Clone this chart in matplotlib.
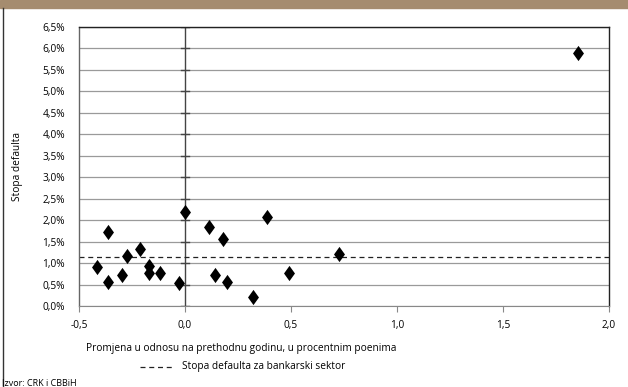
import numpy as np
import matplotlib.pyplot as plt
from matplotlib.path import Path
from matplotlib.lines import Line2D
from matplotlib.ticker import FuncFormatter

plt.rcParams['font.family'] = ['Open Sans', 'DejaVu Sans']

# promjena (p.p.) i stopa defaulta (%)
promjena = [-0.415, -0.363, -0.363, -0.297, -0.274, -0.21, -0.17, -0.17, -0.118, -0.028,
            0.0, 0.113, 0.14, 0.18, 0.2, 0.32, 0.387, 0.49, 0.726, 1.854]
stopa = [0.92, 1.72, 0.55, 0.72, 1.17, 1.32, 0.93, 0.76, 0.78, 0.53,
         2.18, 1.85, 0.73, 1.55, 0.57, 0.2, 2.07, 0.77, 1.2, 5.9]
stopa_sektor = 1.13
x_ticks = [-0.5, 0.0, 0.5, 1.0, 1.5, 2.0]
y_ticks = np.arange(0, 6.51, 0.5)

diamond = Path([(0, 1), (0.72, 0), (0, -1), (-0.72, 0), (0, 1)],
               [Path.MOVETO, Path.LINETO, Path.LINETO, Path.LINETO, Path.CLOSEPOLY])

fig = plt.figure(figsize=(6.28, 3.87), dpi=100)
ax = fig.add_axes([79 / 628, 1 - 306 / 387, 530 / 628, 279 / 387])

# header bar and left frame
fig.patches.append(plt.Rectangle((0, 1 - 8 / 387), 1, 8 / 387, transform=fig.transFigure,
                                 color='#A58C6F', zorder=0))
fig.lines.append(Line2D([3.5 / 628, 3.5 / 628], [0, 1 - 8 / 387], transform=fig.transFigure,
                        color='#333333', lw=1))

ax.set_xlim(-0.5, 2.0)
ax.set_ylim(0, 6.5)
ax.set_yticks(y_ticks)
ax.set_xticks(x_ticks)
ax.grid(axis='y', color='#9a9a9a', lw=0.9)
ax.set_axisbelow(True)

ax.axvline(0, color='#444444', lw=1, zorder=1)
for yv in y_ticks:
    ax.plot([-0.018, 0.018], [yv, yv], color='#444444', lw=1, zorder=1)

ax.axhline(stopa_sektor, color='#222222', lw=0.9, ls=(0, (4, 3)), zorder=2)
ax.scatter(promjena, stopa, marker=diamond, s=120, color='black', zorder=3, linewidths=0)

ax.yaxis.set_major_formatter(FuncFormatter(lambda v, p: f"{v:.1f}%".replace('.', ',')))
ax.xaxis.set_major_formatter(FuncFormatter(lambda v, p: f"{v:.1f}".replace('.', ',')))
ax.tick_params(axis='y', length=0, labelsize=7.3, pad=10)
ax.tick_params(axis='x', length=4, direction='out', color='#888888', labelsize=7.3, pad=6)

for s in ['top', 'right', 'left']:
    ax.spines[s].set_color('#222222')
    ax.spines[s].set_linewidth(1)
ax.spines['left'].set_color('#666666')
ax.spines['bottom'].set_color('#888888')

ax.set_ylabel('Stopa defaulta', fontsize=7.3, labelpad=14)
fig.text(241 / 628, 1 - 349 / 387, 'Promjena u odnosu na prethodnu godinu, u procentnim poenima',
         ha='center', va='center', fontsize=7.3)
fig.lines.append(Line2D([140 / 628, 174 / 628], [1 - 367 / 387] * 2, transform=fig.transFigure,
                        color='#222222', lw=0.9, ls=(0, (4, 3))))
fig.text(182 / 628, 1 - 367 / 387, 'Stopa defaulta za bankarski sektor',
         ha='left', va='center', fontsize=7.3)
fig.text(2 / 628, 1 - 384 / 387, 'Izvor: CRK i CBBiH', ha='left', va='center', fontsize=6.5)

fig.savefig('out.png', dpi=100)
